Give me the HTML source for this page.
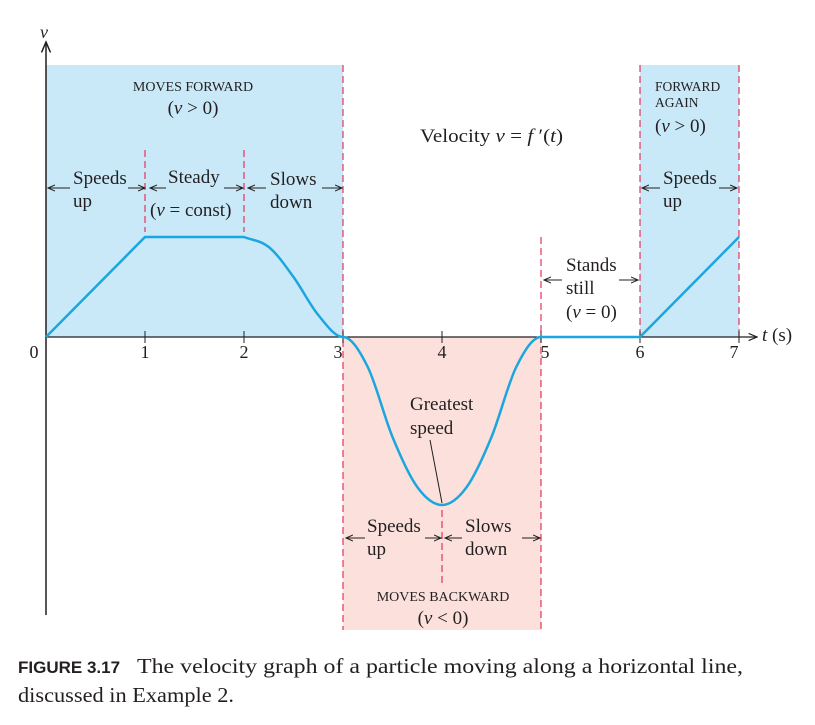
<!DOCTYPE html>
<html><head><meta charset="utf-8"><style>
body{margin:0;background:#fff}
svg text{font-family:"Liberation Serif",serif;fill:#231f20}
.cap{font-family:"Liberation Serif",serif;font-size:21px;fill:#231f20}
</style></head><body>
<svg id="chart" width="815" height="720" viewBox="0 0 815 720">
<defs><marker id="ah" markerWidth="8" markerHeight="8" refX="7" refY="4" orient="auto"><path d="M0,1 L7,4 L0,7" fill="none" stroke="#231f20" stroke-width="1"/></marker></defs>
<g id="regions"></g>
<g id="dashes"></g>
<g id="axes"></g>
<path id="curve" fill="none" stroke="#1ba6df" stroke-width="2.5"/>
<g id="labels" font-size="19">
<text x="40" y="38" font-style="italic" font-size="18">v</text>
<text x="193" y="91" font-size="14" text-anchor="middle">MOVES FORWARD</text>
<text x="193" y="114" text-anchor="middle">(<tspan font-style="italic">v</tspan> &gt; 0)</text>
<text x="420" y="142" textLength="143" lengthAdjust="spacingAndGlyphs">Velocity <tspan font-style="italic">v</tspan> = <tspan font-style="italic">f</tspan> ′(<tspan font-style="italic">t</tspan>)</text>
<text x="655" y="91" font-size="13.5">FORWARD</text>
<text x="655" y="107" font-size="13.5">AGAIN</text>
<text x="655" y="132">(<tspan font-style="italic">v</tspan> &gt; 0)</text>
<text x="73" y="184">Speeds</text><text x="73" y="207">up</text>
<text x="168" y="183">Steady</text>
<text x="150" y="216">(<tspan font-style="italic">v</tspan> = const)</text>
<text x="270" y="185">Slows</text><text x="270" y="208">down</text>
<text x="663" y="184">Speeds</text><text x="663" y="207">up</text>
<text x="566" y="271">Stands</text><text x="566" y="294">still</text>
<text x="566" y="318">(<tspan font-style="italic">v</tspan> = 0)</text>
<text x="410" y="410">Greatest</text><text x="410" y="434">speed</text>
<text x="367" y="532">Speeds</text><text x="367" y="555">up</text>
<text x="465" y="532">Slows</text><text x="465" y="555">down</text>
<text x="443" y="601" font-size="14" text-anchor="middle">MOVES BACKWARD</text>
<text x="443" y="624" text-anchor="middle">(<tspan font-style="italic">v</tspan> &lt; 0)</text>
<text x="762" y="341"><tspan font-style="italic">t</tspan> (s)</text>
</g>
<g stroke="#231f20" stroke-width="1" marker-end="url(#ah)">
<line x1="70" y1="188" x2="48" y2="188"/><line x1="128" y1="188" x2="145" y2="188"/>
<line x1="166" y1="188" x2="150" y2="188"/><line x1="224" y1="188" x2="243" y2="188"/>
<line x1="266" y1="188" x2="248" y2="188"/><line x1="322" y1="188" x2="342" y2="188"/>
<line x1="660" y1="188" x2="642" y2="188"/><line x1="719" y1="188" x2="737" y2="188"/>
<line x1="562" y1="280" x2="544" y2="280"/><line x1="619" y1="280" x2="638" y2="280"/>
<line x1="365" y1="538" x2="346" y2="538"/><line x1="425" y1="538" x2="441" y2="538"/>
<line x1="462" y1="538" x2="445" y2="538"/><line x1="522" y1="538" x2="540" y2="538"/>
</g>
<line x1="430" y1="440" x2="442" y2="503" stroke="#231f20" stroke-width="1"/>
<text x="18" y="673" font-weight="bold" font-size="17" style="font-family:'Liberation Sans',sans-serif">FIGURE 3.17</text>
<text x="137" y="673" class="cap" textLength="606" lengthAdjust="spacingAndGlyphs">The velocity graph of a particle moving along a horizontal line,</text>
<text x="18" y="702" class="cap" textLength="216" lengthAdjust="spacingAndGlyphs">discussed in Example 2.</text>
</svg>
<script>
const tValues=[0,1,2,2.25,2.5,2.75,3,3.25,3.5,3.75,4,4.25,4.5,4.75,5,6,7];
const vValues=[0,1,1,0.9,0.6,0.22,0,-0.3,-1.0,-1.5,-1.68,-1.5,-1.0,-0.3,0,0,1];
const xTicks=[0,1,2,3,4,5,6,7];
const xTickLabels=["0","1","2","3","4","5","6","7"];
const x=t=>46+t*99;
const y=v=>337-v*100;
const ns="http://www.w3.org/2000/svg";
function mk(tag,attrs,parent){const e=document.createElementNS(ns,tag);for(const k in attrs)e.setAttribute(k,attrs[k]);document.getElementById(parent).appendChild(e);return e;}
let r=mk('rect',{x:x(0),y:65,width:x(3)-x(0),height:y(0)-65,fill:'#c9e9f9'},'regions');


r=mk('rect',{x:x(3),y:y(0),width:x(5)-x(3),height:630-y(0),fill:'#fbe0dc'},'regions');


r=mk('rect',{x:x(6),y:65,width:x(7)-x(6),height:y(0)-65,fill:'#c9e9f9'},'regions');


const dl=[[1,150,232],[2,150,232],[3,65,630],[5,237,630],[6,65,337],[7,65,337],[4,510,585]];
dl.forEach(d=>{const l=mk('line',{x1:x(d[0]),x2:x(d[0]),y1:d[1],y2:d[2],stroke:'#e3355a','stroke-width':1.2,'stroke-dasharray':'7,4'},'dashes');

});
let a=mk('line',{x1:x(0),y1:y(0),x2:757,y2:y(0),stroke:'#231f20','stroke-width':1.2,'marker-end':'url(#ah)'},'axes');


a=mk('line',{x1:x(0),y1:615,x2:x(0),y2:42,stroke:'#231f20','stroke-width':1.5,'marker-end':'url(#ah)'},'axes');


xTicks.forEach((t,i)=>{
 if(t>0){const tk=mk('line',{x1:x(t),x2:x(t),y1:y(0)-6,y2:y(0)+6,stroke:'#231f20'},'axes');
 
 }
 const dx=t===0?-12:(t===3||t===7?-5:(t===5?4:0));
 const tx=mk('text',{x:x(t)+dx,y:y(0)+21,'text-anchor':'middle','font-size':18},'axes');
 tx.textContent=xTickLabels[i];
 
 
});
const P=tValues.map((t,i)=>[x(t),y(vValues[i])]);
function tan(i){
 const t=tValues[i];
 if(t===2) return [P[i+1][0]-P[i][0],P[i+1][1]-P[i][1]];
 if(t===3||t===5) return [P[i+1][0]-P[i][0],0];
 return [(P[i+1][0]-P[i-1][0])/2,(P[i+1][1]-P[i-1][1])/2];
}
let d='M'+P[0][0]+','+P[0][1];
for(let i=1;i<P.length;i++){
 const t0=tValues[i-1],t1=tValues[i];
 if(t1<=2||t0>=5){d+=' L'+P[i][0]+','+P[i][1];continue;}
 const m1=tan(i-1),m2=t1===5?[P[i][0]-P[i-1][0],0]:tan(i);
 const p1=P[i-1],p2=P[i];
 d+=` C${p1[0]+m1[0]/3},${p1[1]+m1[1]/3} ${p2[0]-m2[0]/3},${p2[1]-m2[1]/3} ${p2[0]},${p2[1]}`;
}
document.getElementById('curve').setAttribute('d',d);
</script>
</body></html>
